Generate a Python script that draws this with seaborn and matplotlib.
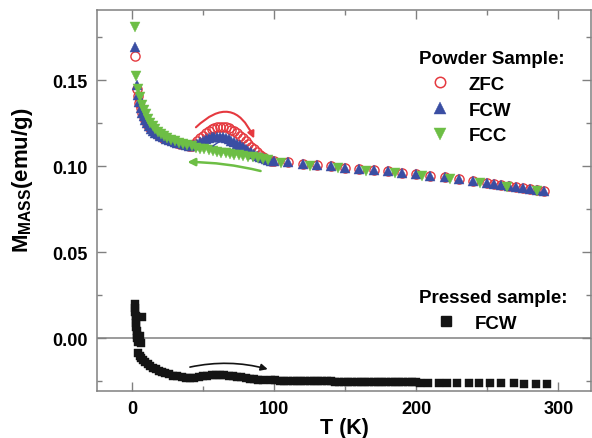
import matplotlib
matplotlib.use("Agg")
import matplotlib.pyplot as plt
import seaborn as sns
from matplotlib.lines import Line2D
from matplotlib.ticker import MultipleLocator, FormatStrFormatter

# ---- powder sample, zero-field-cooled ----
zfc_T = [1.9, 3.2, 4.2, 5.2, 6.2, 7.2, 8.2, 9.2, 10.5, 12, 13.5, 15, 16.5, 18, 20, 22, 24, 26, 28, 30,
         32, 34, 36, 38, 40, 42, 44, 46, 48, 50, 52, 54, 56, 58, 60, 62, 64, 66, 68, 70,
         72, 74, 76, 78, 80, 82, 84, 86, 88, 90, 92, 94, 96, 98, 100,
         110, 120, 130, 140, 150, 160, 170, 180, 190, 200, 210, 220, 230, 240, 250,
         255, 260, 265, 270, 275, 280, 285, 290]
zfc_M = [0.164, 0.145, 0.1405, 0.1368, 0.1336, 0.1308, 0.1286, 0.1266, 0.1246, 0.1228, 0.1214, 0.1202, 0.1192, 0.1183, 0.1173, 0.1164, 0.1156, 0.1149, 0.1143, 0.1138,
         0.1134, 0.1130, 0.1126, 0.1122, 0.1118, 0.1116, 0.1129, 0.1145, 0.1161, 0.1177, 0.1192, 0.1204, 0.1214, 0.1221, 0.1225, 0.1227, 0.1226, 0.1224, 0.1219, 0.1211,
         0.1202, 0.1190, 0.1177, 0.1162, 0.1146, 0.1129, 0.1113, 0.1096, 0.1081, 0.1066, 0.1053, 0.1043, 0.1036, 0.1031, 0.1028,
         0.1021, 0.1014, 0.1006, 0.0999, 0.0991, 0.0984, 0.0976, 0.0969, 0.0961, 0.0953, 0.0944, 0.0934, 0.0924, 0.0913, 0.0902,
         0.0896, 0.0890, 0.0884, 0.0878, 0.0872, 0.0866, 0.0861, 0.0856]

# ---- powder sample, field-cooled warming ----
fcw_T = [1.9, 3.2, 4.2, 5.2, 6.2, 7.2, 8.2, 9.2, 10.5, 12, 13.5, 15, 16.5, 18, 20, 22, 24, 26, 28, 30,
         32, 34, 36, 38, 40, 42, 44, 46, 48, 50, 52, 54, 56, 58, 60, 62, 64, 66, 68, 70,
         72, 74, 76, 78, 80, 82, 84, 86, 88, 90, 92, 94, 96, 98, 100,
         110, 120, 130, 140, 150, 160, 170, 180, 190, 200, 210, 220, 230, 240, 250,
         255, 260, 265, 270, 275, 280, 285, 290]
fcw_M = [0.169, 0.147, 0.1410, 0.1370, 0.1338, 0.1310, 0.1288, 0.1268, 0.1248, 0.1230, 0.1216, 0.1204, 0.1194, 0.1185, 0.1175, 0.1166, 0.1158, 0.1151, 0.1145, 0.1140,
         0.1136, 0.1132, 0.1128, 0.1124, 0.1118, 0.1115, 0.1121, 0.1130, 0.1139, 0.1147, 0.1155, 0.1162, 0.1167, 0.1170, 0.1171, 0.1170, 0.1167, 0.1163, 0.1156, 0.1148,
         0.1140, 0.1130, 0.1120, 0.1109, 0.1099, 0.1088, 0.1079, 0.1069, 0.1061, 0.1053, 0.1046, 0.1040, 0.1035, 0.1031, 0.1028,
         0.1021, 0.1014, 0.1006, 0.0999, 0.0991, 0.0984, 0.0976, 0.0969, 0.0961, 0.0953, 0.0944, 0.0934, 0.0924, 0.0913, 0.0902,
         0.0896, 0.0890, 0.0884, 0.0878, 0.0872, 0.0866, 0.0861, 0.0856]

# ---- powder sample, field-cooled cooling ----
fcc_T = [1.9, 3.0, 4.3, 5.6, 7.0, 8.3, 9.7, 11.2, 12.8, 14.5, 16.3, 18.2, 20.2, 22.5, 25, 27.5, 30, 33, 36, 39,
         42, 45, 48, 51, 54, 57, 60, 63, 66, 69, 72, 75, 78, 81.5, 85, 88.5, 92, 95.5,
         105, 125, 145, 165, 185, 204, 224, 245, 264, 285]
fcc_M = [0.181, 0.1525, 0.1445, 0.1400, 0.1355, 0.1325, 0.1300, 0.1275, 0.1252, 0.1232, 0.1214, 0.1198, 0.1184, 0.1172, 0.1161, 0.1151, 0.1143, 0.1135, 0.1128, 0.1121,
         0.1114, 0.1107, 0.1101, 0.1096, 0.1091, 0.1086, 0.1082, 0.1078, 0.1074, 0.1070, 0.1066, 0.1062, 0.1058, 0.1054, 0.1050, 0.1046, 0.1041, 0.1035,
         0.1017, 0.1002, 0.0987, 0.0972, 0.0957, 0.0942, 0.0922, 0.0900, 0.0877, 0.0853]

# ---- pressed sample, field-cooled warming ----
prs_T = [1.9, 2.1, 2.3, 2.5, 7.0, 2.7, 2.9, 3.1, 3.3, 3.5, 6.0, 3.7, 4.0, 6.2,
         4.5, 5.5, 6.5, 7.5, 9, 11, 13, 15, 17, 19, 21, 23.5, 26, 29, 32, 35, 38, 41, 44, 47,
         50, 53, 56, 59, 62, 65, 68, 71, 74, 77, 80, 83, 86, 89, 92,
         98, 101, 104, 107, 110, 113, 116, 119, 122, 125, 128, 131, 134, 137, 140, 143, 146, 149,
         152, 155, 158, 161, 164, 167, 170, 173, 176, 179, 182, 185, 188, 191, 194, 197, 200, 203,
         208, 216, 222, 229, 237, 244, 252, 260, 268.5, 276, 284, 292]
prs_M = [0.0198, 0.0175, 0.0152, 0.0130, 0.0125, 0.0108, 0.0086, 0.0064, 0.0042, 0.0020, 0.0010, -0.0002, -0.0022, -0.0030,
         -0.0085, -0.0102, -0.0114, -0.0126, -0.0138, -0.0151, -0.0162, -0.0172, -0.0181, -0.0189, -0.0196, -0.0204, -0.0211, -0.0218, -0.0223, -0.0227, -0.0230, -0.0232, -0.0231, -0.0228,
         -0.0223, -0.0219, -0.0216, -0.0215, -0.0215, -0.0216, -0.0218, -0.0221, -0.0224, -0.0228, -0.0232, -0.0236, -0.0240, -0.0242, -0.0244,
         -0.0245, -0.0246, -0.0247, -0.0248, -0.0249, -0.0250, -0.0251, -0.0252, -0.0252, -0.0251, -0.0249, -0.0248, -0.0249, -0.0251, -0.0252, -0.0253, -0.0253, -0.0254,
         -0.0254, -0.0255, -0.0255, -0.0255, -0.0256, -0.0256, -0.0256, -0.0257, -0.0257, -0.0257, -0.0257, -0.0258, -0.0258, -0.0258, -0.0258, -0.0258, -0.0258, -0.0259,
         -0.0261, -0.0262, -0.0262, -0.0263, -0.0263, -0.0263, -0.0264, -0.0264, -0.0264, -0.0265, -0.0265, -0.0265]

powder_labels = ["ZFC", "FCW", "FCC"]
pressed_labels = ["FCW"]

RED = "#e5393f"
BLUE = "#3a4ea3"
GREEN = "#6dbe45"
GRAY = "#808080"
INK = "#141414"

sns.set_theme(style="ticks")
plt.rcParams["font.family"] = ["Liberation Sans", "DejaVu Sans"]
plt.rcParams["font.weight"] = "bold"
plt.rcParams["text.color"] = "black"
plt.rcParams["axes.labelcolor"] = "black"
plt.rcParams["mathtext.fontset"] = "custom"
plt.rcParams["mathtext.rm"] = "Liberation Sans:bold"
plt.rcParams["mathtext.bf"] = "Liberation Sans:bold"
plt.rcParams["mathtext.it"] = "Liberation Sans:bold"

fig = plt.figure(figsize=(5.92, 4.39), dpi=100)
ax = fig.add_axes([97 / 592, 1 - 392 / 439, (591 - 97) / 592, (392 - 11) / 439])

ax.axhline(0, color=GRAY, lw=1.1, zorder=1)


def scatter_series(T, M, **style):
    sns.lineplot(x=T, y=M, ax=ax, estimator=None, sort=False, linestyle="none",
                 legend=False, zorder=3, **style)


scatter_series(zfc_T, zfc_M, marker="o", markersize=6.6, markerfacecolor="none",
               markeredgecolor=RED, markeredgewidth=1.0, color=RED)
scatter_series(fcw_T, fcw_M, marker="^", markersize=7.4, markerfacecolor=BLUE,
               markeredgecolor=BLUE, markeredgewidth=0.3, color=BLUE)
scatter_series(fcc_T, fcc_M, marker="v", markersize=7.4, markerfacecolor=GREEN,
               markeredgecolor=GREEN, markeredgewidth=0.3, color=GREEN)
scatter_series(prs_T, prs_M, marker="s", markersize=5.8, markerfacecolor=INK,
               markeredgecolor=INK, markeredgewidth=0.3, color=INK)

# sweep-direction arrows
def sweep_arrow(start, end, color, lw, rad, scale):
    ax.annotate("", xy=end, xytext=start,
                arrowprops=dict(arrowstyle="-|>", color=color, lw=lw, shrinkA=0, shrinkB=0,
                                mutation_scale=scale, connectionstyle=f"arc3,rad={rad}"),
                zorder=4)

sweep_arrow((45.0, 0.1225), (86.0, 0.1160), RED, 1.5, -0.7, 10)
sweep_arrow((57, 0.1116), (73, 0.1099), BLUE, 1.0, -0.55, 7)
sweep_arrow((90.5, 0.0971), (39.0, 0.1023), GREEN, 1.8, 0.06, 11)
sweep_arrow((40.8, -0.0169), (95.5, -0.0181), INK, 1.2, -0.12, 10)

ax.set_xlim(-24.6, 323.0)
ax.set_ylim(-0.0308, 0.1907)
ax.xaxis.set_major_locator(MultipleLocator(100))
ax.xaxis.set_minor_locator(MultipleLocator(50))
ax.yaxis.set_major_locator(MultipleLocator(0.05))
ax.yaxis.set_minor_locator(MultipleLocator(0.025))
ax.yaxis.set_major_formatter(FormatStrFormatter("%.2f"))

ax.tick_params(which="both", direction="in", top=True, right=True, color=GRAY, width=1.0,
               labelcolor="black")
ax.tick_params(which="major", length=6.5, labelsize=13, pad=6.5)
ax.tick_params(which="minor", length=3.5)
for s in ax.spines.values():
    s.set_color(GRAY)
    s.set_linewidth(1.1)

ax.set_xlabel("T (K)", fontsize=15.5, fontweight="bold", labelpad=0, color="black")
ax.set_ylabel(r"M$_{\mathbf{MASS}}$(emu/g)", fontsize=16, fontweight="bold", color="black")
ax.yaxis.set_label_coords(-0.125, 0.555)

# legends
powder_handles = [
    Line2D([], [], ls="none", marker="o", ms=7.5, mfc="none", mec=RED, mew=1.1),
    Line2D([], [], ls="none", marker="^", ms=9, mfc=BLUE, mec=BLUE, mew=0.3),
    Line2D([], [], ls="none", marker="v", ms=9, mfc=GREEN, mec=GREEN, mew=0.3),
]
leg1 = ax.legend(powder_handles, powder_labels, title="Powder Sample:", loc="upper left",
                 bbox_to_anchor=(419 / 592, 1 - 51 / 439), bbox_transform=fig.transFigure,
                 frameon=False, borderpad=0, borderaxespad=0, handlelength=2.2,
                 handletextpad=0.45, labelspacing=0.46, alignment="left",
                 prop=dict(size=13.5, weight="bold"),
                 title_fontproperties=dict(size=13.5, weight="bold"))
ax.add_artist(leg1)

pressed_handles = [Line2D([], [], ls="none", marker="s", ms=6.5, mfc=INK, mec=INK)]
leg2 = ax.legend(pressed_handles, pressed_labels, title="Pressed sample:", loc="upper left",
                 bbox_to_anchor=(419 / 592, 1 - 290 / 439), bbox_transform=fig.transFigure,
                 frameon=False, borderpad=0, borderaxespad=0, handlelength=2.85,
                 handletextpad=0.12, labelspacing=0.46, alignment="left",
                 prop=dict(size=13.5, weight="bold"),
                 title_fontproperties=dict(size=13.5, weight="bold"))

fig.savefig("out.png", dpi=100)
